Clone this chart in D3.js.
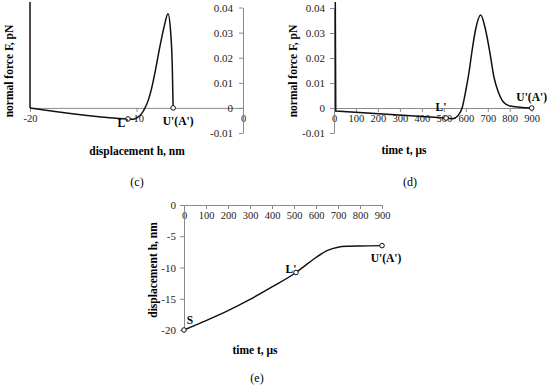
<!DOCTYPE html>
<html>
<head>
<meta charset="utf-8">
<script src="https://cdn.jsdelivr.net/npm/d3@7"></script>
<style>
  body { margin: 0; background: #fff; }
  svg { display: block; font-family: "Liberation Serif", "Times New Roman", serif; }
  .axis path, .axis line { stroke: #8a8a8a; }
  .axis text { fill: #222; font-family: "Liberation Serif", serif; }
</style>
</head>
<body>
<div id="chart"></div>
<script>

// panel (c): normal force vs displacement
const hC = [-20, -20, -10.8, -10.3, -9.9, -9.5, -9.2, -8.9, -8.6, -8.2, -7.8, -7.4, -7.04, -6.79, -6.64, -6.56]
const fC = [0.08, 0, -0.0044, -0.0045, -0.0038, -0.0022, 0, 0.003, 0.0075, 0.0155, 0.0245, 0.0325, 0.0375, 0.030, 0.0165, 0]

// panel (d): normal force vs time
const tD = [4, 8, 510, 540, 565, 583, 600, 615, 627, 646, 668, 687, 710, 728, 748, 771, 801, 847, 900]
const fD = [0.08, -0.0012, -0.004, -0.0043, -0.003, 0, 0.007, 0.0145, 0.022, 0.032, 0.0372, 0.0324, 0.022, 0.0124, 0.0064, 0.0024, 0.0008, 0.0003, 0]

// panel (e): displacement vs time
const tE = [0, 100, 200, 300, 400, 509, 550, 600, 650, 700, 750, 800, 900]
const hE = [-20, -18.5, -16.9, -15.1, -13.1, -10.8, -9.7, -8.4, -7.3, -6.75, -6.6, -6.55, -6.5]

// ticks
const forceTicks = [-0.01, 0, 0.01, 0.02, 0.03, 0.04]
const dispTicksC = [-20, -10, 0]
const timeTicks = [0, 100, 200, 300, 400, 500, 600, 700, 800, 900]
const dispTicksE = [0, -5, -10, -15, -20]

// marked points
const marksC = [{x: -10.8, y: -0.0044, name: "L'"}, {x: -6.56, y: 0, name: "U'(A')"}]
const marksD = [{x: 510, y: -0.004, name: "L'"}, {x: 900, y: 0, name: "U'(A')"}]
const marksE = [{x: 0, y: -20, name: "S"}, {x: 509, y: -10.8, name: "L'"}, {x: 900, y: -6.5, name: "U'(A')"}]

const fmtForce = d => d === 0 ? '0' : d.toFixed(2)
const fmtPlain = d => String(d)

const svg = d3.select('#chart')
  .append('svg')
    .attr('width', 550)
    .attr('height', 388)

svg.append('clipPath').attr('id', 'clipTop')
  .append('rect').attr('x', 0).attr('y', 2).attr('width', 550).attr('height', 386)

// ---------- (c) ----------
const xC = d3.scaleLinear().domain([-20, 0]).range([30, 243])
const yC = d3.scaleLinear().domain([-0.01, 0.04]).range([133, 7.5])

svg.append('g').attr('class', 'axis')
  .attr('transform', `translate(0,${yC(0)})`)
  .call(d3.axisBottom(xC).tickValues(dispTicksC).tickSize(4).tickSizeOuter(0).tickFormat(fmtPlain))
  .selectAll('text').style('font-size', '10.5px')

svg.append('g').attr('class', 'axis')
  .attr('transform', `translate(${xC(0)},0)`)
  .call(d3.axisLeft(yC).tickValues(forceTicks).tickSize(4).tickPadding(6).tickSizeOuter(0).tickFormat(fmtForce))
  .selectAll('text').style('font-size', '11px')

const ptsC = hC.map((h, i) => [h, fC[i]])
svg.append('path')
  .attr('clip-path', 'url(#clipTop)')
  .attr('d', d3.line().x(d => xC(d[0])).y(d => yC(d[1]))(ptsC.slice(0, 2)))
  .attr('fill', 'none').attr('stroke', '#111').attr('stroke-width', 1.5)
svg.append('path')
  .attr('d', d3.line().curve(d3.curveMonotoneX).x(d => xC(d[0])).y(d => yC(d[1]))(ptsC.slice(1)))
  .attr('fill', 'none').attr('stroke', '#111').attr('stroke-width', 1.5)

// ---------- (d) ----------
const xD = d3.scaleLinear().domain([0, 900]).range([334, 531.7])
const yD = d3.scaleLinear().domain([-0.01, 0.04]).range([133, 8])

svg.append('g').attr('class', 'axis')
  .attr('transform', `translate(0,${yD(0)})`)
  .call(d3.axisBottom(xD).tickValues(timeTicks).tickSize(4).tickSizeOuter(0).tickFormat(fmtPlain))
  .selectAll('text').style('font-size', '10.5px')

svg.append('g').attr('class', 'axis')
  .attr('transform', `translate(${xD(0)},0)`)
  .call(d3.axisLeft(yD).tickValues(forceTicks).tickSize(4).tickPadding(5).tickSizeOuter(0).tickFormat(fmtForce))
  .selectAll('text').style('font-size', '11px')

const ptsD = tD.map((t, i) => [t, fD[i]])
svg.append('path')
  .attr('clip-path', 'url(#clipTop)')
  .attr('d', d3.line().x(d => xD(d[0])).y(d => yD(d[1]))(ptsD.slice(0, 3)))
  .attr('fill', 'none').attr('stroke', '#111').attr('stroke-width', 1.5)
svg.append('path')
  .attr('d', d3.line().curve(d3.curveMonotoneX).x(d => xD(d[0])).y(d => yD(d[1]))(ptsD.slice(2)))
  .attr('fill', 'none').attr('stroke', '#111').attr('stroke-width', 1.5)

// ---------- (e) ----------
const xE = d3.scaleLinear().domain([0, 900]).range([184, 382])
const yE = d3.scaleLinear().domain([-20, 0]).range([330, 205])

svg.append('g').attr('class', 'axis')
  .attr('transform', `translate(0,${yE(0)})`)
  .call(d3.axisBottom(xE).tickValues(timeTicks).tickSize(4).tickSizeOuter(0).tickFormat(fmtPlain))
  .selectAll('text').style('font-size', '10.5px')

svg.append('g').attr('class', 'axis')
  .attr('transform', `translate(${xE(0)},0)`)
  .call(d3.axisLeft(yE).tickValues(dispTicksE).tickSize(4).tickPadding(4).tickSizeOuter(0).tickFormat(fmtPlain))
  .selectAll('text').style('font-size', '11px')

svg.append('path')
  .attr('d', d3.line().curve(d3.curveMonotoneX).x((d, i) => xE(d)).y((d, i) => yE(hE[i]))(tE))
  .attr('fill', 'none').attr('stroke', '#111').attr('stroke-width', 1.5)

// markers
function drawMarks (data, xs, ys){
  svg.append('g')
    .selectAll('circle')
    .data(data)
    .join('circle')
      .attr('cx', d => xs(d.x))
      .attr('cy', d => ys(d.y))
      .attr('r', 2.3)
      .attr('fill', 'white')
      .attr('stroke', '#111')
      .attr('stroke-width', 1)
}
drawMarks(marksC, xC, yC)
drawMarks(marksD, xD, yD)
drawMarks(marksE, xE, yE)

// point labels (offsets in px from the marker)
function drawMarkLabels (data, xs, ys, offsets){
  svg.append('g')
    .selectAll('text')
    .data(data)
    .join('text')
      .attr('x', (d, i) => xs(d.x) + offsets[i][0])
      .attr('y', (d, i) => ys(d.y) + offsets[i][1])
      .attr('text-anchor', 'middle')
      .attr('dominant-baseline', 'central')
      .style('font-size', '11.5px')
      .style('font-weight', 'bold')
      .text(d => d.name)
}
drawMarkLabels(marksC, xC, yC, [[-5, 4], [5, 13]])
drawMarkLabels(marksD, xD, yD, [[-5, -11], [0, -11]])
drawMarkLabels(marksE, xE, yE, [[6, -10], [-5, -4], [4, 12]])

// axis titles
function title (txt, x, y, rotate){
  svg.append('text')
    .attr('transform', `translate(${x},${y})` + (rotate ? ' rotate(-90)' : ''))
    .attr('text-anchor', 'middle')
    .attr('dominant-baseline', 'central')
    .style('font-size', '11.5px')
    .style('font-weight', 'bold')
    .text(txt)
}
title('normal force F, pN', 9, 71, true)
title('displacement h, nm', 137, 151)
title('normal force F, pN', 293, 71, true)
title('time t, μs', 404, 150)
title('displacement h, nm', 153, 270, true)
title('time t, μs', 255, 350)

// panel captions
const captions = [['(c)', 137, 182], ['(d)', 410, 182], ['(e)', 257, 378]]
svg.append('g')
  .selectAll('text')
  .data(captions)
  .join('text')
    .attr('x', d => d[1])
    .attr('y', d => d[2])
    .attr('text-anchor', 'middle')
    .attr('dominant-baseline', 'central')
    .style('font-size', '12px')
    .text(d => d[0])

</script>
</body>
</html>
